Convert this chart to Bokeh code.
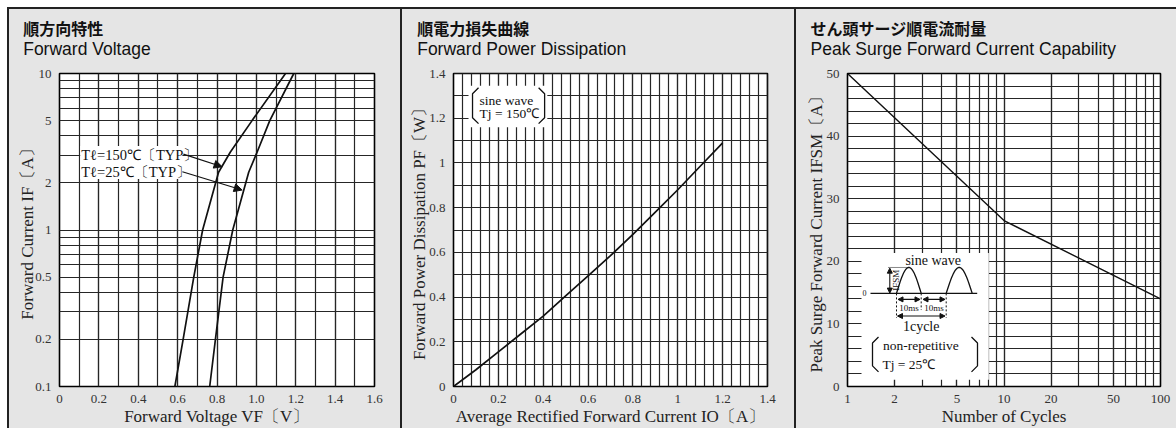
import numpy as np
from bokeh.plotting import figure
from bokeh.layouts import row, column
from bokeh.models import (FixedTicker, CustomJSTickFormatter, Label, Spacer,
                          Arrow, NormalHead, Range1d)
from bokeh.embed import file_html
from bokeh.resources import INLINE

# ---------------- data ----------------
# Panel 1: forward voltage
if_current = [0.1, 0.2, 0.5, 1.0, 2.34, 3.15, 5.0, 10.0]
vf_150c = [0.586, 0.628, 0.682, 0.727, 0.808, 0.868, 0.978, 1.148]
vf_25c = [0.763, 0.792, 0.831, 0.880, 0.961, 1.004, 1.068, 1.190]
p1_xticks = [0, 0.2, 0.4, 0.6, 0.8, 1.0, 1.2, 1.4, 1.6]
p1_yticks = [0.1, 0.2, 0.5, 1, 2, 5, 10]

# Panel 2: forward power dissipation
io_current = [0, 0.1, 0.2, 0.3, 0.4, 0.5, 0.6, 0.7, 0.8, 0.9, 1.0, 1.1, 1.2]
pf_power = [0, 0.075, 0.155, 0.235, 0.315, 0.405, 0.495, 0.585, 0.68, 0.78, 0.88, 0.985, 1.09]
p2_xticks = [0, 0.2, 0.4, 0.6, 0.8, 1.0, 1.2, 1.4]
p2_yticks = [0, 0.2, 0.4, 0.6, 0.8, 1.0, 1.2, 1.4]

# Panel 3: peak surge forward current
n_cycles = [1, 10, 100]
ifsm = [50, 26.5, 14]
p3_xticks = [1, 2, 5, 10, 20, 50, 100]
p3_yticks = [0, 10, 20, 30, 40, 50]

BG = "#e5e5e5"
GRID = "#262626"
INK = "#111111"
SERIF = "Liberation Serif"
H = 419
HT = 55          # height of the title strip
HM = H - HT      # height of the chart figure


def no_align(fig):
    try:
        fig.frame_align = False
    except AttributeError:
        pass


def base_fig(width, xr, yr, xtype, ytype, bl, br, ylab_standoff):
    p = figure(width=width, height=HM, x_range=xr, y_range=yr,
               x_axis_type=xtype, y_axis_type=ytype,
               output_backend="svg", toolbar_location=None,
               min_border_left=bl, min_border_right=br,
               min_border_top=9, min_border_bottom=41,
               background_fill_color="white", border_fill_color=BG,
               outline_line_color="black", outline_line_width=1.6,
               styles={"background-color": BG})
    no_align(p)
    for ax in (p.xaxis, p.yaxis):
        ax.axis_line_color = None
        ax.major_tick_line_color = None
        ax.minor_tick_line_color = None
        ax.major_label_text_font = SERIF
        ax.major_label_text_font_size = "13px"
        ax.major_label_text_color = "#333333"
        ax.axis_label_text_font = SERIF
        ax.axis_label_text_font_size = "17px"
        ax.axis_label_text_font_style = "normal"
        ax.axis_label_text_color = "#222222"
    p.xaxis.major_label_standoff = 2
    p.yaxis.major_label_standoff = 2
    p.xaxis.axis_label_standoff = 1
    p.yaxis.axis_label_standoff = ylab_standoff
    for g in (p.xgrid, p.ygrid):
        g.grid_line_color = GRID
        g.grid_line_width = 1.2
        g.minor_grid_line_color = GRID
        g.minor_grid_line_width = 1.2
    return p


def title_fig(width, jp, en, x0):
    t = figure(width=width, height=HT, x_range=Range1d(0, width), y_range=Range1d(HT, 0),
               output_backend="svg", toolbar_location=None,
               min_border_left=0, min_border_right=0, min_border_top=0, min_border_bottom=0,
               background_fill_color=BG, border_fill_color=BG, outline_line_color=None,
               styles={"background-color": BG})
    no_align(t)
    t.axis.visible = False
    t.grid.visible = False
    t.add_layout(Label(x=x0, y=18, text=jp, text_font="Noto Sans CJK JP",
                       text_font_style="bold", text_font_size="16px",
                       text_baseline="middle", text_color=INK))
    t.add_layout(Label(x=x0, y=39.5, text=en, text_font="Liberation Sans",
                       text_font_size="17.5px", text_baseline="alphabetic",
                       text_color=INK))
    return t


def txt(p, x, y, s, size="13px", align="left", base="middle", angle=0):
    p.add_layout(Label(x=x, y=y, text=s, text_font=SERIF, text_font_size=size,
                       text_align=align, text_baseline=base, angle=angle,
                       text_color=INK))


def set_ticks(ax, grid, ticks, minor, code):
    t = FixedTicker(ticks=ticks, minor_ticks=minor)
    ax.ticker = t
    grid.ticker = t
    ax.formatter = CustomJSTickFormatter(code=code)


def white_box(p, a, b):
    p.quad(left=[a[0]], right=[b[0]], top=[a[1]], bottom=[b[1]],
           fill_color="white", line_color=None)


# ---------------- panel 1 ----------------
def d1(x, y):  # reference-image pixel -> panel-1 data (decorations only)
    return (x - 59.3) / 196.6, 10 ** ((230 - y) / 156.7)


t1 = title_fig(391, "順方向特性", "Forward Voltage", 13.7)
p1 = base_fig(391, Range1d(0, 1.6), Range1d(0.1, 10), "linear", "log", 50, 26, -5)
p1.xaxis.axis_label = "Forward Voltage VF〔V〕"
p1.yaxis.axis_label = "Forward Current IF〔A〕"
set_ticks(p1.xaxis, p1.xgrid, p1_xticks, [0.1 * i for i in range(17)],
          "return tick == 0 ? '0' : tick.toFixed(1);")
set_ticks(p1.yaxis, p1.ygrid, p1_yticks,
          [0.2, 0.3, 0.4, 0.5, 0.6, 0.7, 0.8, 0.9, 1, 2, 3, 4, 5, 6, 7, 8, 9, 10],
          "return tick < 1 ? tick.toFixed(1) : tick.toFixed(0);")

white_box(p1, d1(80, 146), d1(182, 179))
p1.line(vf_150c, if_current, line_color=INK, line_width=1.7)
p1.line(vf_25c, if_current, line_color=INK, line_width=1.7)
tx, ty = d1(81, 155)
txt(p1, tx, ty, "Tℓ=150℃〔TYP〕", size="14.5px")
tx, ty = d1(81, 172)
txt(p1, tx, ty, "Tℓ=25℃〔TYP〕", size="14.5px")
for (xa, ya, xb, yb) in [(183, 154, 221.7, 166.7), (182, 171.7, 241.7, 190)]:
    s = d1(xa, ya)
    e = d1(xb, yb)
    p1.add_layout(Arrow(end=NormalHead(size=8, fill_color=INK, line_color=INK),
                        x_start=s[0], y_start=s[1], x_end=e[0], y_end=e[1],
                        line_color=INK, line_width=1.2))


# ---------------- panel 2 ----------------
def d2(x, y):
    return (x - 453) / 224.0, (386.7 - y) / 224.3


t2 = title_fig(392, "順電力損失曲線", "Forward Power Dissipation", 14.7)
p2 = base_fig(392, Range1d(0, 1.4), Range1d(0, 1.4), "linear", "linear", 51, 27, -3)
p2.xaxis.axis_label = "Average Rectified Forward Current IO〔A〕"
p2.yaxis.axis_label = "Forward Power Dissipation PF〔W〕"
code2 = "return tick == 0 ? '0' : (Math.abs(tick - Math.round(tick)) < 1e-9 ? tick.toFixed(0) : tick.toFixed(1));"
set_ticks(p2.xaxis, p2.xgrid, p2_xticks, [0.04 * i for i in range(36)], code2)
set_ticks(p2.yaxis, p2.ygrid, p2_yticks, [0.1 * i for i in range(15)], code2)

white_box(p2, d2(468, 85), d2(546.7, 126.7))
p2.line(io_current, pf_power, line_color=INK, line_width=1.7)
tx, ty = d2(479, 99.3)
txt(p2, tx, ty, "sine wave", size="13.5px")
tx, ty = d2(479, 113)
txt(p2, tx, ty, "Tj = 150℃", size="13.5px")
for pts in ([(478, 87), (472, 93), (472, 117), (478, 123)],
            [(538, 87), (544, 93), (544, 117), (538, 123)]):
    xs, ys = zip(*[d2(x, y) for x, y in pts])
    p2.line(list(xs), list(ys), line_color=INK, line_width=1.3)


# ---------------- panel 3 ----------------
def d3(x, y):
    return 10 ** ((x - 847) / 156.5), (386.7 - y) / 6.28


t3 = title_fig(380, "せん頭サージ順電流耐量", "Peak Surge Forward Current Capability", 14)
p3 = base_fig(380, Range1d(1, 100), Range1d(0, 50), "log", "linear", 51, 16, -2)
p3.xaxis.axis_label = "Number of Cycles"
p3.yaxis.axis_label = "Peak Surge Forward Current IFSM〔A〕"
set_ticks(p3.xaxis, p3.xgrid, p3_xticks,
          [1, 2, 3, 4, 5, 6, 7, 8, 9, 10, 20, 30, 40, 50, 60, 70, 80, 90, 100],
          "return tick.toFixed(0);")
set_ticks(p3.yaxis, p3.ygrid, p3_yticks, [2 * i for i in range(26)],
          "return tick.toFixed(0);")

white_box(p3, d3(861, 252.7), d3(988.3, 380))
p3.line(n_cycles, ifsm, line_color=INK, line_width=1.4)


def pl3(pts, **kw):
    xs, ys = zip(*[d3(x, y) for x, y in pts])
    p3.line(list(xs), list(ys), line_color=INK, **kw)


tx, ty = d3(932.7, 260)
txt(p3, tx, ty, "sine wave", size="14px", align="center")
pl3([(870, 293.3), (976.7, 293.3)], line_width=1.2)
tx, ty = d3(864, 293.3)
txt(p3, tx, ty, "0", size="8px", align="center")
tt = np.linspace(0, np.pi, 40)
for x0, x1 in [(896, 920.7), (945.7, 971.7)]:
    pl3([(x0 + (x1 - x0) * t / np.pi, 293.3 - 26 * np.sin(t)) for t in tt], line_width=1.3)
pl3([(888, 267.3), (907, 267.3)], line_width=1, line_dash="1 1")
for x, yb in [(896, 318), (920.7, 310), (945.7, 318)]:
    pl3([(x, 293.3), (x, yb)], line_width=1, line_dash="2 2")


def arr3(xa, ya, xb, yb):
    s = d3(xa, ya)
    e = d3(xb, yb)
    p3.add_layout(Arrow(start=NormalHead(size=5, fill_color=INK, line_color=INK),
                        end=NormalHead(size=5, fill_color=INK, line_color=INK),
                        x_start=s[0], y_start=s[1], x_end=e[0], y_end=e[1],
                        line_color=INK, line_width=1.1))


arr3(889.3, 268, 889.3, 293)
arr3(897.5, 299.3, 919.5, 299.3)
arr3(922.5, 299.3, 944.5, 299.3)
arr3(897, 316, 944.5, 316)
tx, ty = d3(895, 280)
txt(p3, tx, ty, "IFSM", size="9px", align="center", angle=np.pi / 2)
tx, ty = d3(908.5, 307.5)
txt(p3, tx, ty, "10ms", size="9px", align="center")
tx, ty = d3(933.5, 307.5)
txt(p3, tx, ty, "10ms", size="9px", align="center")
tx, ty = d3(920.7, 326.5)
txt(p3, tx, ty, "1cycle", size="14px", align="center")
pl3([(878, 337), (872, 343), (872, 366), (878, 372)], line_width=1.3)
pl3([(971, 337), (977, 343), (977, 366), (971, 372)], line_width=1.3)
tx, ty = d3(882.5, 346)
txt(p3, tx, ty, "non-repetitive", size="13.5px")
tx, ty = d3(882, 365)
txt(p3, tx, ty, "Tj = 25℃", size="13.5px")


def vline():
    return Spacer(width=2, height=H, styles={"background-color": "#222222"})


top_line = row(Spacer(width=7, height=2),
               Spacer(width=1169, height=2, styles={"background-color": "#222222"}))
main = row(Spacer(width=7, height=H), vline(), column(t1, p1), vline(),
           column(t2, p2), vline(), column(t3, p3))
layout = column(Spacer(width=1176, height=7), top_line, main)
open("out.html", "w").write(file_html(layout, INLINE))
